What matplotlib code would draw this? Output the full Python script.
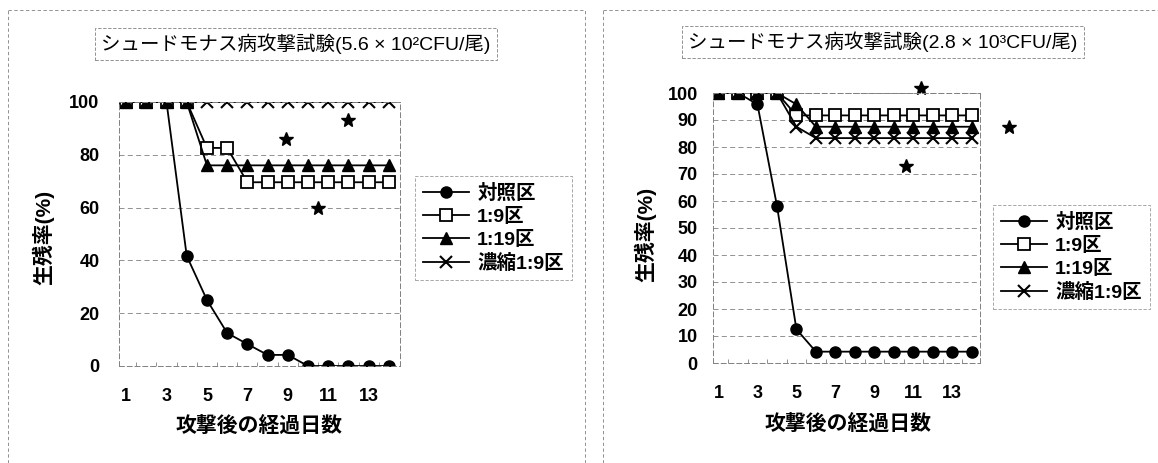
import numpy as np
import matplotlib
matplotlib.use('Agg')
import matplotlib.pyplot as plt
from matplotlib.lines import Line2D

plt.rcParams['font.family'] = ['Liberation Sans', 'Noto Sans CJK JP']

# datos
dias = np.arange(1, 15)
series = ['対照区', '1:9区', '1:19区', '濃縮1:9区']

# grafico izquierdo (5.6 x 10^2 CFU/尾)
izq_control = [100, 100, 100, 41.7, 25, 12.5, 8.3, 4.2, 4.2, 0, 0, 0, 0, 0]
izq_19 = [100, 100, 100, 100, 82.6, 82.6, 69.6, 69.6, 69.6, 69.6, 69.6, 69.6, 69.6, 69.6]
izq_119 = [100, 100, 100, 100, 76, 76, 76, 76, 76, 76, 76, 76, 76, 76]
izq_conc = [100] * 14
izq_star_x = [8.9, 12.0, 10.5]
izq_star_y = [86, 93, 60]

# grafico derecho (2.8 x 10^3 CFU/尾)
der_control = [100, 100, 95.8, 58.3, 12.5, 4.2, 4.2, 4.2, 4.2, 4.2, 4.2, 4.2, 4.2, 4.2]
der_19 = [100, 100, 100, 100, 91.7, 91.7, 91.7, 91.7, 91.7, 91.7, 91.7, 91.7, 91.7, 91.7]
der_119 = [100, 100, 100, 100, 95.8, 87.5, 87.5, 87.5, 87.5, 87.5, 87.5, 87.5, 87.5, 87.5]
der_conc = [100, 100, 100, 100, 87.5, 83.3, 83.3, 83.3, 83.3, 83.3, 83.3, 83.3, 83.3, 83.3]
der_star_x = [11.4, 15.9, 10.6]
der_star_y = [102, 87.4, 73]

W, H = 1158, 463
fig = plt.figure(figsize=(W / 100, H / 100), dpi=100)

estilos = [
    dict(marker='o', mfc='black', mec='black', ms=8),
    dict(marker='s', mfc='white', mec='black', ms=8, mew=1.3),
    dict(marker='^', mfc='black', mec='black', ms=8),
    dict(marker='x', mfc='black', mec='black', ms=9, mew=1.5),
]

bold_jp = dict(family=['Liberation Sans', 'Noto Sans CJK JP'], weight='bold')


def px(x0, y0, x1, y1):
    # pixeles -> fraccion de figura
    return [x0 / W, 1 - y1 / H, (x1 - x0) / W, (y1 - y0) / H]


def panel(rect, datos, sx, sy, yticks, xlim, titulo, tbox, ypad, xlab, ylab, leg):
    ax = fig.add_axes(rect)
    for d, lab, st in zip(datos, series, estilos):
        ax.plot(dias, d, color='black', lw=1.3, label=lab, **st)
    ax.plot(sx, sy, ls='none', marker='*', color='black', ms=10, clip_on=False)
    ax.set_xlim(*xlim)
    ax.set_ylim(0, 100)
    ax.set_yticks(yticks)
    ax.set_xticks([1, 3, 5, 7, 9, 11, 13])
    ax.set_xticks(np.arange(1.5, 14.5, 1), minor=True)
    ax.tick_params(axis='y', length=0, pad=ypad, labelsize=13)
    ax.tick_params(axis='x', which='major', length=0, pad=16, labelsize=13)
    ax.tick_params(axis='x', which='minor', length=3, direction='in', color='gray')
    ax.grid(axis='y', color='gray', ls=(0, (6, 4)), lw=0.6)
    ax.set_axisbelow(True)
    for s in ax.spines.values():
        s.set_color('gray')
        s.set_linestyle((0, (5, 3)))
        s.set_linewidth(0.7)
    for t in ax.get_xticklabels() + ax.get_yticklabels():
        t.set_fontweight('bold')
    fig.text(tbox[0] / W, 1 - tbox[1] / H, titulo, fontsize=14, ha='center', va='center',
             bbox=dict(boxstyle='square,pad=0.3', fc='white', ec='gray', ls=(0, (4, 2)), lw=0.6))
    fig.text(xlab[0] / W, 1 - xlab[1] / H, '攻撃後の経過日数', fontsize=15, ha='center', va='center', **bold_jp)
    fig.text(ylab[0] / W, 1 - ylab[1] / H, '生残率(%)', fontsize=15, rotation=90,
             ha='center', va='center', **bold_jp)
    lg = ax.legend(loc='upper left', bbox_to_anchor=(leg[0] / W, 1 - leg[1] / H),
                   bbox_transform=fig.transFigure, frameon=True, fancybox=False,
                   prop=dict(family=['Liberation Sans', 'Noto Sans CJK JP'], weight='bold', size=14),
                   handlelength=2.4, handletextpad=0.4, labelspacing=0.25, borderpad=0.4,
                   borderaxespad=0)
    fr = lg.get_frame()
    fr.set_edgecolor('gray')
    fr.set_linestyle((0, (4, 2)))
    fr.set_linewidth(0.6)
    return ax


panel(px(119, 102, 400, 366), [izq_control, izq_19, izq_119, izq_conc], izq_star_x, izq_star_y,
      np.arange(0, 101, 20), (0.65, 14.55), 'シュードモナス病攻撃試験(5.6 × 10²CFU/尾)',
      (296, 44), 14, (259, 427), (43, 237), (415, 176))

panel(px(713, 93, 980, 363), [der_control, der_19, der_119, der_conc], der_star_x, der_star_y,
      np.arange(0, 101, 10), (0.72, 14.42), 'シュードモナス病攻撃試験(2.8 × 10³CFU/尾)',
      (883, 42), 11, (848, 425), (645, 234), (993, 205))

# bordes de los paneles
lin = dict(color='gray', lw=0.6, ls=(0, (4, 3)), transform=fig.transFigure)
for x0, x1 in [(8, 585), (603, 1158)]:
    fig.add_artist(Line2D([x0 / W, x1 / W], [1 - 10 / H] * 2, **lin))
for x in [8, 585, 603]:
    fig.add_artist(Line2D([x / W] * 2, [0, 1 - 10 / H], **lin))

fig.savefig('out.png', dpi=100, facecolor='white')
